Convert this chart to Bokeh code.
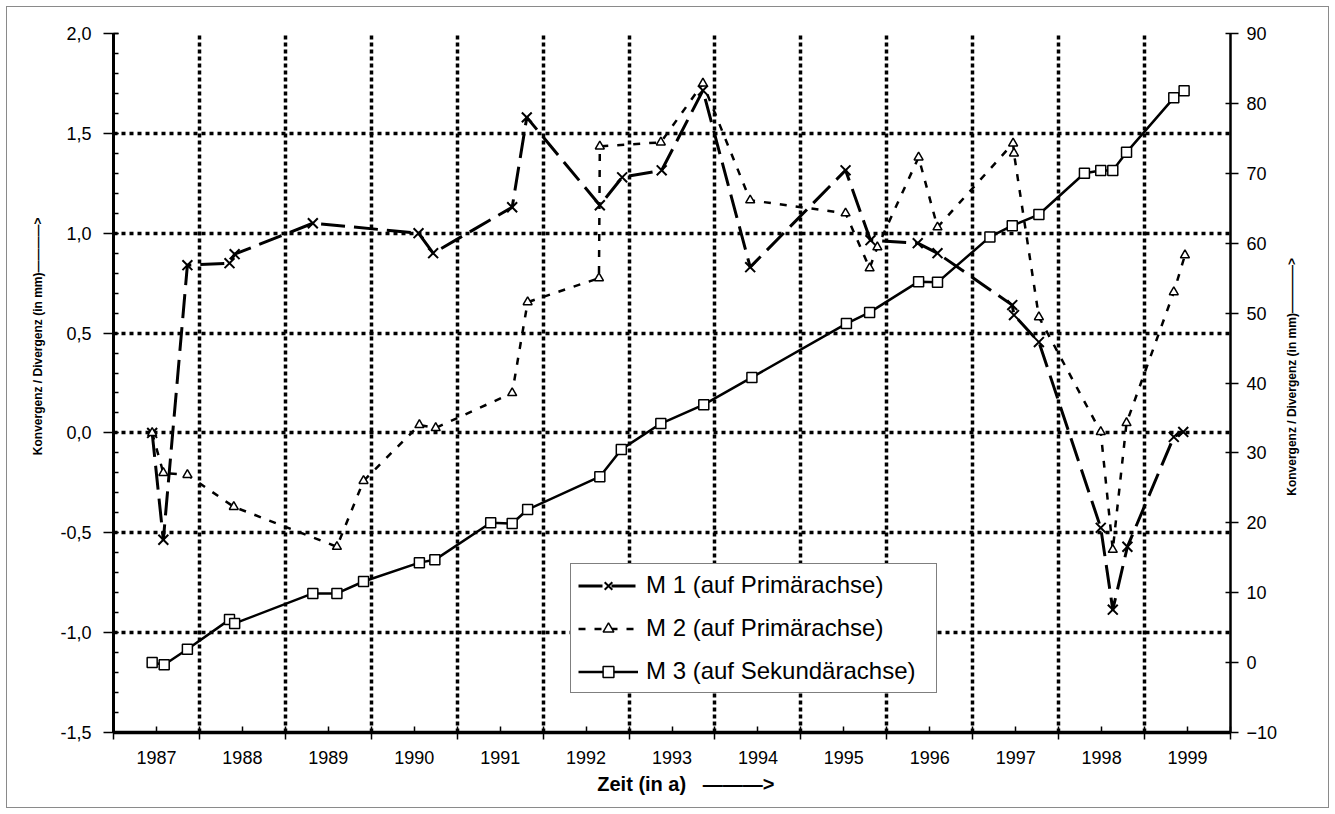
from math import pi
from bokeh.plotting import figure
from bokeh.models import (Range1d, LinearAxis, FixedTicker, SingleIntervalTicker,
                          CustomJSTickFormatter, Legend, LegendItem)
from bokeh.embed import file_html
from bokeh.resources import INLINE

# ---------------- data ----------------
year_labels = ["1987", "1988", "1989", "1990", "1991", "1992", "1993",
               "1994", "1995", "1996", "1997", "1998", "1999"]
year_start = 1987
year_end = 2000

# M 1 (primary axis, mm)
m1_x = [1987.45, 1987.58, 1987.86, 1988.35, 1988.41, 1989.32, 1990.55, 1990.72,
        1991.64, 1991.81, 1992.66, 1992.92, 1993.38, 1993.86, 1994.41, 1995.52,
        1995.81, 1996.36, 1996.59, 1997.46, 1997.48, 1997.77, 1998.49, 1998.63,
        1998.80, 1999.34, 1999.45]
m1_y = [0.00, -0.535, 0.84, 0.85, 0.895, 1.05, 1.00, 0.90,
        1.13, 1.58, 1.14, 1.28, 1.315, 1.715, 0.83, 1.315,
        0.965, 0.95, 0.90, 0.64, 0.59, 0.455, -0.475, -0.885,
        -0.57, -0.02, 0.005]

# M 2 (primary axis, mm)
m2_x = [1987.45, 1987.58, 1987.86, 1988.40, 1989.60, 1989.91, 1990.56, 1990.75,
        1991.64, 1991.82, 1992.65, 1992.66, 1993.37, 1993.86, 1994.41, 1995.52,
        1995.80, 1995.89, 1996.37, 1996.59, 1997.47, 1997.48, 1997.77, 1998.49,
        1998.63, 1998.79, 1999.34, 1999.47]
m2_y = [0.00, -0.20, -0.21, -0.37, -0.57, -0.24, 0.04, 0.025,
        0.20, 0.655, 0.775, 1.435, 1.455, 1.75, 1.165, 1.10,
        0.825, 0.93, 1.38, 1.03, 1.45, 1.40, 0.58, 0.005,
        -0.585, 0.05, 0.705, 0.89]

# M 3 (secondary axis, mm)
m3_x = [1987.45, 1987.59, 1987.86, 1988.35, 1988.41, 1989.32, 1989.60, 1989.91,
        1990.56, 1990.74, 1991.39, 1991.64, 1991.82, 1992.66, 1992.91, 1993.37,
        1993.87, 1994.43, 1995.53, 1995.80, 1996.37, 1996.59, 1997.20, 1997.46,
        1997.77, 1998.30, 1998.49, 1998.63, 1998.79, 1999.34, 1999.46]
m3_y = [0.0, -0.3, 1.9, 6.15, 5.6, 9.9, 9.9, 11.6,
        14.3, 14.7, 20.0, 19.9, 21.9, 26.6, 30.5, 34.2,
        36.9, 40.8, 48.5, 50.1, 54.5, 54.4, 60.9, 62.5,
        64.1, 70.0, 70.4, 70.4, 73.0, 80.8, 81.8]

legend_labels = ["M 1 (auf Primärachse)", "M 2 (auf Primärachse)",
                 "M 3 (auf Sekundärachse)"]

y_title = "Konvergenz / Divergenz (in mm)"
x_title = "Zeit (in a)"
NB = "\u00A0"
LONG_ARROW_Y = "\u2014" * 4 + ">"
LONG_ARROW_X = "\u2014" * 3 + ">"

FONT = "Liberation Sans"

# ---------------- figure ----------------
p = figure(width=1335, height=814,
           x_range=Range1d(year_start, year_end), y_range=Range1d(-1.5, 2.0),
           output_backend="svg", toolbar_location=None,
           min_border_left=113, min_border_right=105,
           min_border_top=33, min_border_bottom=82)
p.outline_line_color = None
p.background_fill_color = "white"
p.border_fill_alpha = 0
p.styles = {"box-shadow": "inset 0 0 0 6px white, inset 0 0 0 7px #8a8a8a",
            "background-color": "white"}
p.extra_y_ranges = {"sec": Range1d(-10, 90)}

mids = [year_start + i + 0.5 for i in range(len(year_labels))]
bounds = [year_start + i for i in range(len(year_labels) + 1)]

# x axis
xa = p.xaxis[0]
xa.ticker = FixedTicker(ticks=mids, minor_ticks=bounds)
xa.formatter = CustomJSTickFormatter(args=dict(labels=year_labels, start=year_start),
                                     code="return labels[Math.round(tick - start - 0.5)];")
xa.axis_line_width = 3.5
xa.major_tick_in = 6
xa.major_tick_out = 0
xa.minor_tick_in = 6
xa.minor_tick_out = 7
xa.major_tick_line_width = 1.5
xa.minor_tick_line_width = 1.5
xa.major_label_standoff = 11
xa.major_label_text_font = FONT
xa.major_label_text_font_size = "18px"
xa.major_label_text_color = "black"
xa.axis_label = NB * 5 + x_title + NB * 3 + LONG_ARROW_X
xa.axis_label_text_font = FONT
xa.axis_label_text_font_style = "bold"
xa.axis_label_text_font_size = "20px"
xa.axis_label_text_color = "black"
xa.axis_label_standoff = 6

# left axis
ya = p.yaxis[0]
ya.ticker = SingleIntervalTicker(interval=0.5, num_minor_ticks=5)
ya.formatter = CustomJSTickFormatter(code="return tick.toFixed(1).replace('.', ',');")
ya.axis_line_width = 3
ya.major_tick_in = 5
ya.major_tick_out = 10
ya.minor_tick_in = 5
ya.minor_tick_out = 0
ya.major_tick_line_width = 1.5
ya.minor_tick_line_width = 1.5
ya.major_label_standoff = 12
ya.major_label_text_font = FONT
ya.major_label_text_font_size = "18px"
ya.major_label_text_color = "black"
ya.axis_label = NB * 28 + y_title + LONG_ARROW_Y
ya.axis_label_text_font = FONT
ya.axis_label_text_font_style = "bold"
ya.axis_label_text_font_size = "12px"
ya.axis_label_text_color = "black"
ya.axis_label_standoff = 12

# right axis
ax2 = LinearAxis(y_range_name="sec", ticker=SingleIntervalTicker(interval=10, num_minor_ticks=0))
ax2.axis_line_width = 2.5
ax2.major_tick_in = 5
ax2.major_tick_out = 8
ax2.minor_tick_line_color = None
ax2.major_tick_line_width = 1.5
ax2.major_label_standoff = 8
ax2.major_label_text_font = FONT
ax2.major_label_text_font_size = "18px"
ax2.major_label_text_color = "black"
ax2.axis_label_text_font = FONT
ax2.axis_label_text_font_style = "bold"
ax2.axis_label_text_font_size = "12px"
ax2.axis_label_text_color = "black"
ax2.axis_label_standoff = 12
_props = ax2.properties()
if "axis_label_orientation" in _props and "axis_label_align" in _props:
    ax2.axis_label_orientation = pi / 2
    ax2.axis_label_align = "start"
    ax2.axis_label = NB * 71 + y_title + LONG_ARROW_Y
else:
    ax2.axis_label = y_title + LONG_ARROW_Y
p.add_layout(ax2, "right")

# grids
p.xgrid.ticker = FixedTicker(ticks=bounds[1:-1])
p.xgrid.grid_line_color = "black"
p.xgrid.grid_line_width = 3.5
p.xgrid.grid_line_dash = "4 3"
p.ygrid.ticker = FixedTicker(ticks=[-1.0, -0.5, 0.0, 0.5, 1.0, 1.5, 2.0])
p.ygrid.grid_line_color = "black"
p.ygrid.grid_line_width = 3.5
p.ygrid.grid_line_dash = "4 4"

# ---------------- series ----------------
r1 = p.line(m1_x, m1_y, line_color="black", line_width=3, line_dash="24 9")
s1 = p.scatter(m1_x, m1_y, marker="x", size=14, line_color="black", line_width=2)

r2 = p.line(m2_x, m2_y, line_color="black", line_width=2.5, line_dash="7 9")
s2 = p.scatter(m2_x, m2_y, marker="triangle", size=9, line_color="black",
               line_width=1.5, fill_color="white")

r3 = p.line(m3_x, m3_y, y_range_name="sec", line_color="black", line_width=2.5)
s3 = p.scatter(m3_x, m3_y, y_range_name="sec", marker="square", size=10,
               line_color="black", line_width=1.5, fill_color="white")

legend = Legend(items=[LegendItem(label=legend_labels[0], renderers=[r1, s1]),
                       LegendItem(label=legend_labels[1], renderers=[r2, s2]),
                       LegendItem(label=legend_labels[2], renderers=[r3, s3])],
                location=(457, 39))
legend.label_text_font = FONT
legend.label_text_font_size = "24px"
legend.label_text_color = "black"
legend.glyph_width = 60
legend.glyph_height = 27
legend.label_height = 27
legend.label_width = 283
legend.spacing = 15
legend.padding = 7
legend.margin = 0
legend.label_standoff = 8
legend.border_line_color = "black"
legend.border_line_width = 1.5
legend.background_fill_color = "white"
legend.background_fill_alpha = 1.0
p.add_layout(legend)

open("out.html", "w").write(file_html(p, INLINE))
